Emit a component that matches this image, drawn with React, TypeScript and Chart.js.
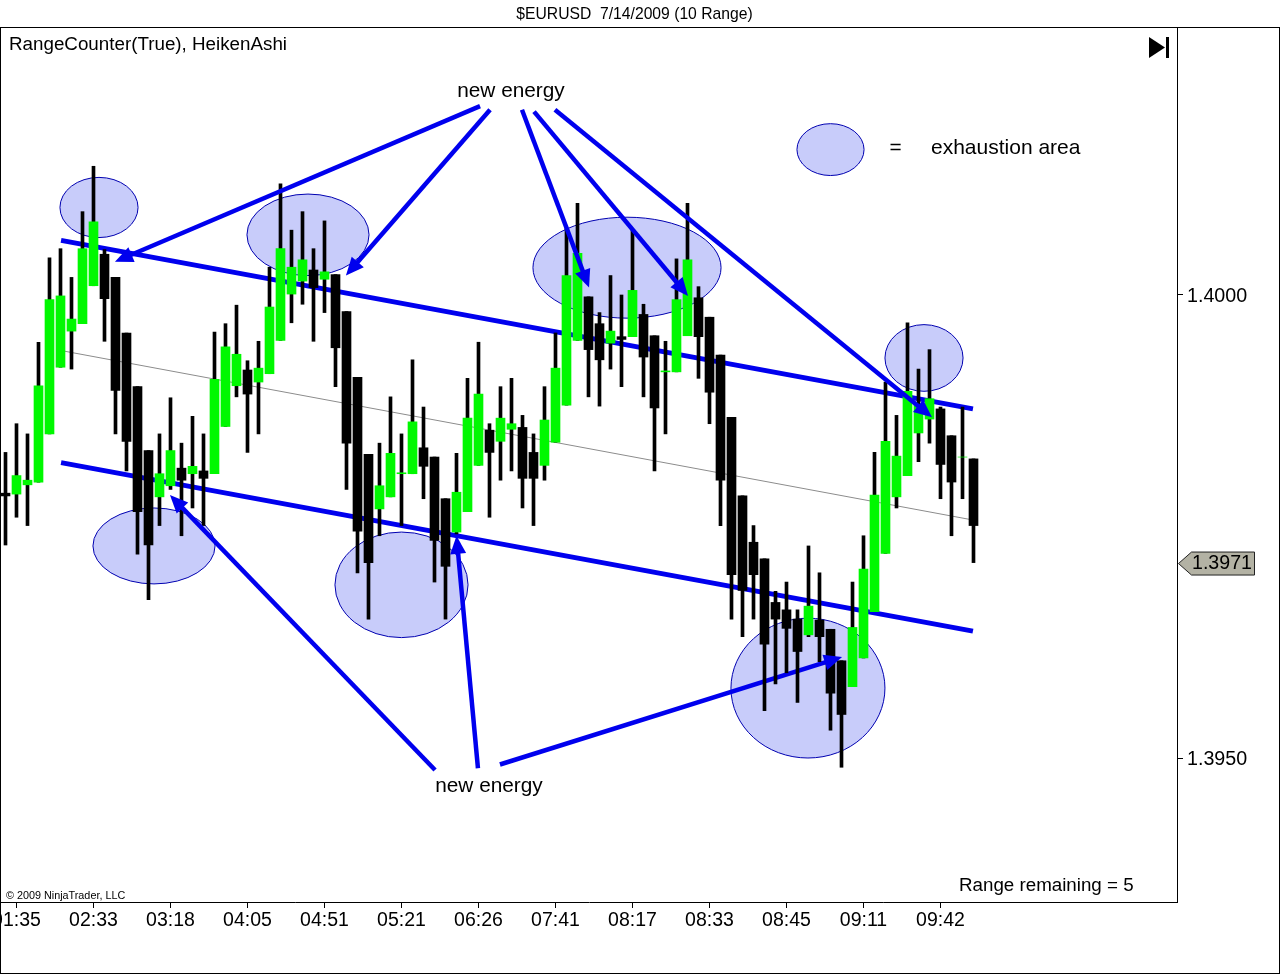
import React, { useEffect, useRef } from "react";
import { Chart, registerables } from "chart.js";

Chart.register(...registerables);

const xTickLabels = ["01:35", "02:33", "03:18", "04:05", "04:51", "05:21", "06:26", "07:41", "08:17", "08:33", "08:45", "09:11", "09:42"];
const yTickValues = [1.395, 1.4];
const lastPrice = 1.3971;

// Heiken Ashi bars
const opens = [
  1.39786, 1.39785, 1.39795, 1.39798, 1.3985, 1.39922, 1.39961, 1.39969, 1.4001, 1.40044,
  1.40019, 1.39959, 1.39901, 1.39832, 1.39782, 1.39794, 1.39813, 1.39807, 1.3981, 1.39807,
  1.39858, 1.39902, 1.39919, 1.39906, 1.39915, 1.39951, 1.40001, 1.40015, 1.40027, 1.40017,
  1.40022, 1.39982, 1.39911, 1.39828, 1.39769, 1.39782, 1.39807, 1.39807, 1.39835, 1.39825,
  1.3978, 1.39744, 1.39766, 1.39816, 1.39854, 1.39842, 1.39855, 1.39857, 1.3983, 1.39816,
  1.39841, 1.39881, 1.39951, 1.39998, 1.39969, 1.39948, 1.39955, 1.39955, 1.39979, 1.39956,
  1.39917, 1.39917, 1.39956, 1.39997, 1.39976, 1.39935, 1.39868, 1.39783, 1.39733, 1.39715,
  1.39668, 1.3966, 1.3965, 1.39633, 1.39649, 1.39639, 1.39605, 1.39577, 1.39608, 1.39658,
  1.39721, 1.39782, 1.39805, 1.39851, 1.39866, 1.39877, 1.39848, 1.39825, 1.39823,
];
const highs = [
  1.3983, 1.39861, 1.3985, 1.39949, 1.4004, 1.4005, 1.40019, 1.4009, 1.40139, 1.40049,
  1.40019, 1.39959, 1.39901, 1.39832, 1.3985, 1.39889, 1.3984, 1.39869, 1.3985, 1.3996,
  1.39969, 1.39989, 1.39929, 1.3995, 1.4003, 1.4012, 1.4007, 1.4009, 1.4005, 1.4008,
  1.40022, 1.39982, 1.39911, 1.39828, 1.3984, 1.3989, 1.3985, 1.3993, 1.39879, 1.39825,
  1.3978, 1.39829, 1.3991, 1.39949, 1.39861, 1.39901, 1.3991, 1.3987, 1.3985, 1.39901,
  1.39959, 1.40072, 1.40099, 1.39998, 1.39981, 1.40021, 1.4, 1.4007, 1.3999, 1.39956,
  1.3995, 1.40039, 1.40099, 1.40009, 1.39976, 1.39935, 1.39868, 1.39783, 1.39751, 1.39715,
  1.3968, 1.3969, 1.3966, 1.39729, 1.397, 1.39639, 1.39605, 1.3969, 1.3974, 1.3983,
  1.39906, 1.3987, 1.3997, 1.3992, 1.39941, 1.39879, 1.39848, 1.39879, 1.39823,
];
const lows = [
  1.3973, 1.3976, 1.39751, 1.39798, 1.3985, 1.39922, 1.3992, 1.39969, 1.4001, 1.3995,
  1.3985, 1.3981, 1.3972, 1.39671, 1.39751, 1.3979, 1.3974, 1.3977, 1.39751, 1.39807,
  1.39858, 1.3989, 1.3983, 1.3985, 1.39915, 1.39951, 1.3997, 1.3999, 1.3995, 1.39981,
  1.39901, 1.3979, 1.397, 1.3965, 1.3974, 1.39782, 1.39751, 1.39807, 1.3978, 1.3969,
  1.3965, 1.39742, 1.39766, 1.39816, 1.3976, 1.398, 1.3981, 1.3977, 1.39751, 1.398,
  1.39841, 1.39881, 1.39951, 1.3989, 1.3988, 1.3992, 1.39901, 1.39955, 1.3989, 1.3981,
  1.3985, 1.39917, 1.39956, 1.3991, 1.39861, 1.39751, 1.3965, 1.39631, 1.3965, 1.39551,
  1.3958, 1.39592, 1.3956, 1.39631, 1.39604, 1.3953, 1.3949, 1.39577, 1.39608, 1.39658,
  1.39721, 1.3977, 1.39805, 1.3982, 1.3984, 1.3978, 1.3974, 1.3978, 1.39711,
];
const closes = [
  1.39783, 1.39805, 1.398, 1.39902, 1.39995, 1.39999, 1.39974, 1.4005, 1.40079, 1.39996,
  1.39897, 1.39842, 1.39766, 1.3973, 1.39807, 1.39832, 1.398, 1.39815, 1.39802, 1.39909,
  1.39944, 1.39936, 1.39893, 1.39921, 1.39987, 1.4005, 1.4003, 1.40038, 1.40008, 1.40025,
  1.39943, 1.3984, 1.39745, 1.39711, 1.39794, 1.39829, 1.39808, 1.39863, 1.39815, 1.39735,
  1.39707, 1.39787, 1.39867, 1.39893, 1.3983, 1.39867, 1.39861, 1.39802, 1.39802, 1.39865,
  1.39921, 1.40021, 1.40045, 1.39941, 1.3993, 1.39961, 1.39952, 1.40005, 1.39933, 1.39878,
  1.39918, 1.39995, 1.40038, 1.39955, 1.39895, 1.398, 1.39698, 1.39681, 1.39698, 1.39623,
  1.3965, 1.3964, 1.39615, 1.39664, 1.39631, 1.3957, 1.39547, 1.39641, 1.39704, 1.39784,
  1.39842, 1.39826, 1.39896, 1.39881, 1.39888, 1.39817, 1.39798, 1.39825, 1.39751,
];

// channel and mid line, [bar index, price] ends
const upperChannel = [[5.05, 1.40059], [87.95, 1.39877]];
const lowerChannel = [[5.05, 1.39819], [87.95, 1.39637]];
const midLine = [[5.05, 1.3994], [87.95, 1.39757]];

// exhaustion ellipses as bounds in bar index / price, last one is the legend key
const ellipseLeft = [4.95, 21.95, 7.95, 29.95, 47.95, 65.95, 79.95, 71.95];
const ellipseRight = [12.05, 33.05, 19.05, 42.05, 65.05, 79.95, 87.05, 78.05];
const ellipseTop = [1.40127, 1.40109, 1.3977, 1.39744, 1.40084, 1.39651, 1.39968, 1.40185];
const ellipseBottom = [1.40062, 1.40021, 1.39688, 1.3963, 1.39975, 1.395, 1.39896, 1.40129];

// "new energy" arrows
const arrowTailX = [43.14, 44.05, 46.95, 48.05, 49.95, 39.05, 42.95, 44.95];
const arrowTailY = [1.40204, 1.402, 1.402, 1.40198, 1.402, 1.39487, 1.39489, 1.39493];
const arrowTipX = [9.95, 30.95, 53.05, 62.05, 84.23, 14.95, 41.0, 76.05];
const arrowTipY = [1.40036, 1.40021, 1.40008, 1.39999, 1.39868, 1.39784, 1.3974, 1.39609];
const UNDER_BARS_ARROW = 7; // this shaft runs behind the wicks

const BLUE = "#0000ee";
const FONT = '"Liberation Sans", Arial, sans-serif';

const drawShaft = (chart: any, i: number) => {
  const { ctx, scales } = chart;
  const x0 = scales.x.getPixelForValue(arrowTailX[i]);
  const y0 = scales.y.getPixelForValue(arrowTailY[i]);
  const x1 = scales.x.getPixelForValue(arrowTipX[i]);
  const y1 = scales.y.getPixelForValue(arrowTipY[i]);
  const a = Math.atan2(y1 - y0, x1 - x0);
  ctx.strokeStyle = BLUE;
  ctx.lineWidth = 4.5;
  ctx.beginPath();
  ctx.moveTo(x0, y0);
  ctx.lineTo(x1 - 12 * Math.cos(a), y1 - 12 * Math.sin(a));
  ctx.stroke();
};

const drawHead = (chart: any, i: number) => {
  const { ctx, scales } = chart;
  const x0 = scales.x.getPixelForValue(arrowTailX[i]);
  const y0 = scales.y.getPixelForValue(arrowTailY[i]);
  const x1 = scales.x.getPixelForValue(arrowTipX[i]);
  const y1 = scales.y.getPixelForValue(arrowTipY[i]);
  const a = Math.atan2(y1 - y0, x1 - x0);
  const len = 18;
  const half = 8;
  const bx = x1 - len * Math.cos(a);
  const by = y1 - len * Math.sin(a);
  ctx.fillStyle = BLUE;
  ctx.beginPath();
  ctx.moveTo(x1, y1);
  ctx.lineTo(bx - half * Math.sin(a), by + half * Math.cos(a));
  ctx.lineTo(bx + half * Math.sin(a), by - half * Math.cos(a));
  ctx.closePath();
  ctx.fill();
};

const drawText = (ctx: any, text: string, x: number, y: number, size: number, align = "left") => {
  ctx.font = `${size}px ${FONT}`;
  ctx.fillStyle = "#000";
  ctx.textAlign = align;
  ctx.textBaseline = "middle";
  ctx.fillText(text, x, y);
};

const annotations = {
  id: "annotations",
  beforeDatasetsDraw(chart: any) {
    const { ctx, scales } = chart;
    ctx.save();
    ellipseLeft.forEach((_, i) => {
      const l = scales.x.getPixelForValue(ellipseLeft[i]);
      const r = scales.x.getPixelForValue(ellipseRight[i]);
      const t = scales.y.getPixelForValue(ellipseTop[i]);
      const b = scales.y.getPixelForValue(ellipseBottom[i]);
      ctx.beginPath();
      ctx.ellipse((l + r) / 2, (t + b) / 2, (r - l) / 2, (b - t) / 2, 0, 0, Math.PI * 2);
      ctx.fillStyle = "#c8ccfa";
      ctx.fill();
      ctx.strokeStyle = "#0000b0";
      ctx.lineWidth = 1;
      ctx.stroke();
    });
    ctx.restore();
  },
  afterDatasetsDraw(chart: any) {
    const { ctx } = chart;
    ctx.save();
    arrowTailX.forEach((_, i) => {
      if (i !== UNDER_BARS_ARROW) drawShaft(chart, i);
      drawHead(chart, i);
    });
    ctx.restore();
  },
  afterDraw(chart: any) {
    const { ctx, scales } = chart;
    ctx.save();

    // window frame
    ctx.strokeStyle = "#000";
    ctx.lineWidth = 1;
    ctx.strokeRect(0.5, 27.5, 1279, 946);

    drawText(ctx, "$EURUSD  7/14/2009 (10 Range)", 634.5, 15, 15.7, "center");
    drawText(ctx, "RangeCounter(True), HeikenAshi", 9, 44.5, 18.8);
    drawText(ctx, "new energy", 511, 91.5, 20.8, "center");
    drawText(ctx, "new energy", 489, 786.5, 20.8, "center");
    drawText(ctx, "=", 895.5, 148, 20.8, "center");
    drawText(ctx, "exhaustion area", 931, 148.5, 21);
    drawText(ctx, "Range remaining = 5", 959, 885.5, 18.75);
    drawText(ctx, "© 2009 NinjaTrader, LLC", 6, 896.5, 10.8);

    // skip-to-end button
    ctx.fillStyle = "#000";
    ctx.beginPath();
    ctx.moveTo(1149, 37);
    ctx.lineTo(1165, 47.5);
    ctx.lineTo(1149, 58);
    ctx.closePath();
    ctx.fill();
    ctx.fillRect(1166, 37, 3, 21);

    // last price tag
    const py = scales.y.getPixelForValue(lastPrice);
    ctx.beginPath();
    ctx.moveTo(1178.5, py);
    ctx.lineTo(1191.5, py - 11.5);
    ctx.lineTo(1254.5, py - 11.5);
    ctx.lineTo(1254.5, py + 11.5);
    ctx.lineTo(1191.5, py + 11.5);
    ctx.closePath();
    ctx.fillStyle = "#b3b2a4";
    ctx.fill();
    ctx.strokeStyle = "#222";
    ctx.stroke();
    drawText(ctx, lastPrice.toFixed(4), 1192, py + 0.5, 19.6);

    ctx.restore();
  },
};

const App: React.FC = () => {
  const canvasRef = useRef<HTMLCanvasElement | null>(null);

  useEffect(() => {
    if (!canvasRef.current) return;

    const underArrow = {
      id: "underArrow",
      beforeDatasetDraw(chart: any, args: any) {
        // goes on top of the channel lines but under the first bar layer
        if (args.index === 0) {
          chart.ctx.save();
          drawShaft(chart, UNDER_BARS_ARROW);
          chart.ctx.restore();
        }
      },
    };

    const chart = new Chart(canvasRef.current, {
      type: "bar",
      data: {
        datasets: [
          {
            label: "Wicks",
            data: lows.map((low, i) => ({ x: i, y: [low, highs[i]] })),
            backgroundColor: "#000",
            barThickness: 3,
            grouped: false,
            order: 2,
          },
          {
            label: "Bodies",
            data: opens.map((open, i) => ({ x: i, y: [open, closes[i]] })),
            backgroundColor: opens.map((open, i) => (closes[i] >= open ? "#00f800" : "#000")),
            barThickness: 9,
            grouped: false,
            order: 1,
          },
          {
            type: "line",
            label: "Upper",
            data: upperChannel.map(([x, y]) => ({ x, y })),
            borderColor: BLUE,
            borderWidth: 5,
            pointRadius: 0,
            order: 3,
          },
          {
            type: "line",
            label: "Lower",
            data: lowerChannel.map(([x, y]) => ({ x, y })),
            borderColor: BLUE,
            borderWidth: 5,
            pointRadius: 0,
            order: 3,
          },
          {
            type: "line",
            label: "Mid",
            data: midLine.map(([x, y]) => ({ x, y })),
            borderColor: "#8c8c8c",
            borderWidth: 1,
            pointRadius: 0,
            order: 4,
          },
        ] as any,
      },
      options: {
        responsive: false,
        devicePixelRatio: 1,
        animation: false,
        layout: { padding: { left: 1, top: 27, right: 0, bottom: 0 } },
        plugins: { legend: { display: false }, title: { display: false }, tooltip: { enabled: false } },
        scales: {
          x: {
            type: "linear",
            min: -0.409,
            max: 106.5,
            offset: false,
            afterBuildTicks: (scale: any) => {
              scale.ticks = xTickLabels.map((_, k) => ({ value: 1 + 7 * k }));
            },
            afterFit: (scale: any) => {
              scale.height = 72;
              scale.paddingLeft = 0;
              scale.paddingRight = 0;
            },
            grid: { display: true, offset: false, drawOnChartArea: false, drawTicks: true, tickLength: 6, tickColor: "#000" },
            border: { display: true, color: "#000", width: 1 },
            ticks: {
              autoSkip: false,
              maxRotation: 0,
              padding: 0.5,
              color: "#000",
              font: { family: FONT, size: 19.5 },
              callback: (value: any) => xTickLabels[(Number(value) - 1) / 7],
            },
          },
          y: {
            type: "linear",
            position: "right",
            min: 1.393445,
            max: 1.402894,
            afterBuildTicks: (scale: any) => {
              scale.ticks = yTickValues.map((value) => ({ value }));
            },
            afterFit: (scale: any) => {
              scale.width = 103;
              scale.paddingTop = 0;
              scale.paddingBottom = 0;
            },
            grid: { display: true, drawOnChartArea: false, drawTicks: true, tickLength: 6, tickColor: "#000" },
            border: { display: true, color: "#000", width: 1 },
            ticks: {
              padding: 4,
              labelOffset: 2,
              color: "#000",
              font: { family: FONT, size: 19.7 },
              callback: (value: any) => Number(value).toFixed(4),
            },
          },
        },
      },
      plugins: [annotations, underArrow],
    } as any);

    return () => chart.destroy();
  }, []);

  return (
    <div style={{ position: "absolute", left: 0, top: 0, width: 1280, height: 974, background: "#fff" }}>
      <canvas ref={canvasRef} width={1280} height={974} style={{ display: "block" }} />
    </div>
  );
};

export default App;
